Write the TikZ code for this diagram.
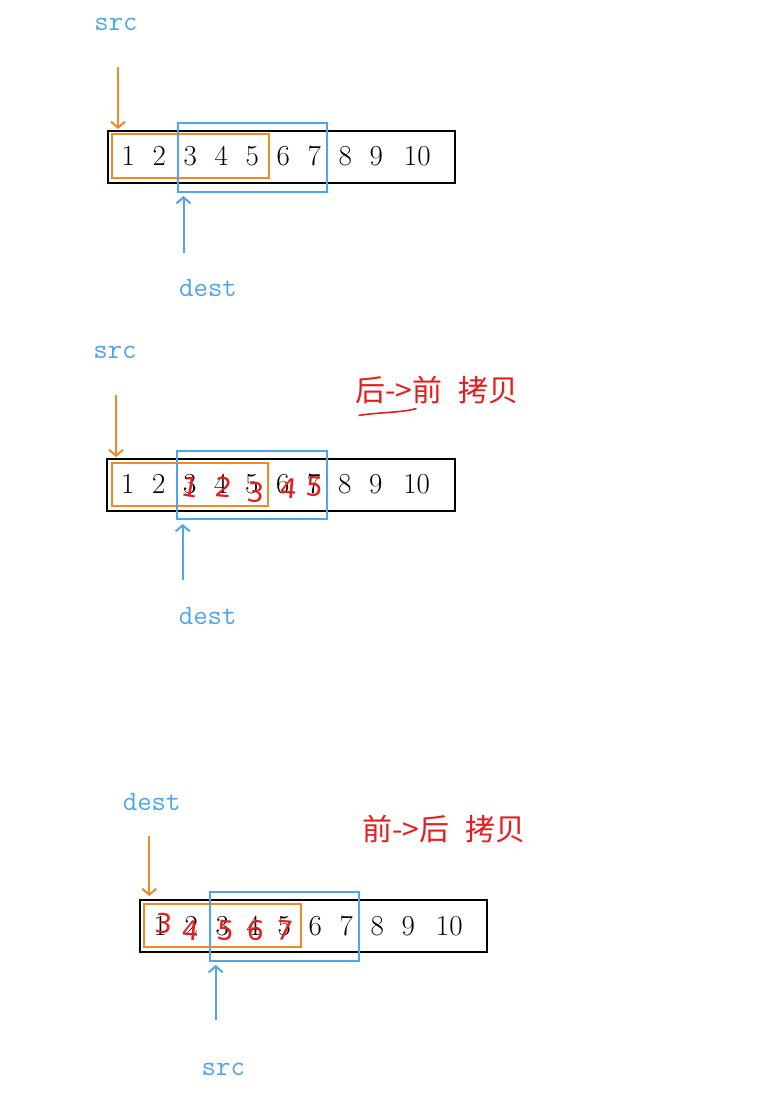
\documentclass[tikz,border=0pt]{standalone}
\usepackage{fontspec}
\newfontfamily\cjk{Noto Sans CJK SC}
\newfontfamily\hand{DejaVu Sans}
\usetikzlibrary{arrows.meta}
\definecolor{myorange}{HTML}{F08A24}
\definecolor{myblue}{HTML}{4FA5EA}
\definecolor{myred}{HTML}{E41E1E}
\begin{document}
\begin{tikzpicture}[x=1pt,y=-1pt,
  digit/.style={font=\fontsize{29}{30}\selectfont, inner sep=0pt, anchor=base},
  lbl/.style={text=myblue, font=\ttfamily\fontsize{28}{28}\selectfont, inner sep=0pt},
  arr/.style={line width=2pt, -{Straight Barb[length=6pt,width=14pt,line width=2pt]}},
  arrbox/.style={draw=black, line width=2pt},
  obox/.style={draw=myorange, line width=1.7pt},
  bbox/.style={draw=myblue, line width=1.7pt},
  cn/.style={text=myred, font=\cjk\fontsize{30}{30}\selectfont, inner sep=0pt},
  hw/.style={text=myred, font=\hand\fontsize{27}{27}\selectfont, inner sep=0pt, anchor=base}
]
\useasboundingbox (0,0) rectangle (760,1098);

% ---------- top diagram ----------
\draw[arrbox] (108,131) rectangle (455,183);
\foreach \i in {1,...,9}{
  \node[digit] (a\i) at ({128.3+31*(\i-1)},165.7) {\i};
}
\node[digit] (a10) at (417.3,165.7) {10};
\draw[obox] (112.3,134.3) rectangle (269.3,178.3);
\draw[bbox] (177.7,123) rectangle (327.3,191.7);
\node[lbl] (asrc) at (116,24) {src};
\node[lbl] (adest) at (208,288) {dest};
\coordinate (aos) at (118,67);
\coordinate (aoe) at (118,129);
\coordinate (abs) at (183.5,253);
\coordinate (abe) at (183.5,196);
\draw[arr, myorange] (aos) -- (aoe);
\draw[arr, myblue] (abs) -- (abe);

% ---------- middle diagram ----------
\draw[arrbox] (106.7,459) rectangle (455,511);
\foreach \i in {1,...,9}{
  \node[digit] (b\i) at ({127.7+31*(\i-1)},493.3) {\i};
}
\node[digit] (b10) at (416.7,493.3) {10};
\draw[obox] (111.7,462.7) rectangle (268.3,506);
\draw[bbox] (177.3,451) rectangle (326.7,519.3);
\node[lbl] (bsrc) at (115,352) {src};
\node[lbl] (bdest) at (207.7,616) {dest};
\coordinate (bos) at (116,395);
\coordinate (boe) at (116,457);
\coordinate (bbs) at (182.7,580);
\coordinate (bbe) at (182.7,524);
\draw[arr, myorange] (bos) -- (boe);
\draw[arr, myblue] (bbs) -- (bbe);
\node[hw, rotate=-10] (h1) at (189,497) {1};
\node[hw, rotate=-5] (h2) at (223,497) {2};
\node[hw, rotate=-5] (h3) at (255,502) {3};
\node[hw, rotate=-5] (h4) at (288,498) {4};
\node[hw, rotate=-5] (h5) at (314,496) {5};
\node[cn, anchor=west] (bcn) at (355,390) {后->前\hspace{0.55em}拷贝};
\draw[myred, line width=1.6pt] (358.5,415.5) .. controls (380,412) and (400,413) .. (416.5,408.5);

% ---------- bottom diagram ----------
\draw[arrbox] (140,900) rectangle (487.3,952.3);
\foreach \i in {1,...,9}{
  \node[digit] (c\i) at ({160.3+31*(\i-1)},935) {\i};
}
\node[digit] (c10) at (449.3,935) {10};
\draw[obox] (144.3,904) rectangle (301,946.7);
\draw[bbox] (210,891.7) rectangle (359.3,960.7);
\node[lbl] (cdest) at (151.7,801.7) {dest};
\node[lbl] (csrc) at (223.3,1069.3) {src};
\coordinate (cos) at (149.3,836);
\coordinate (coe) at (149.3,896);
\coordinate (cbs) at (215.7,1020);
\coordinate (cbe) at (215.7,965);
\draw[arr, myorange] (cos) -- (coe);
\draw[arr, myblue] (cbs) -- (cbe);
\node[hw, rotate=-5] (k1) at (163,933) {3};
\node[hw, rotate=-5] (k2) at (190,940) {4};
\node[hw, rotate=-5] (k3) at (225,940) {5};
\node[hw, rotate=-5] (k4) at (255,940) {6};
\node[hw, rotate=-5] (k5) at (284,940) {7};
\node[cn, anchor=west] (ccn) at (362,829.3) {前->后\hspace{0.55em}拷贝};
\end{tikzpicture}
\end{document}
